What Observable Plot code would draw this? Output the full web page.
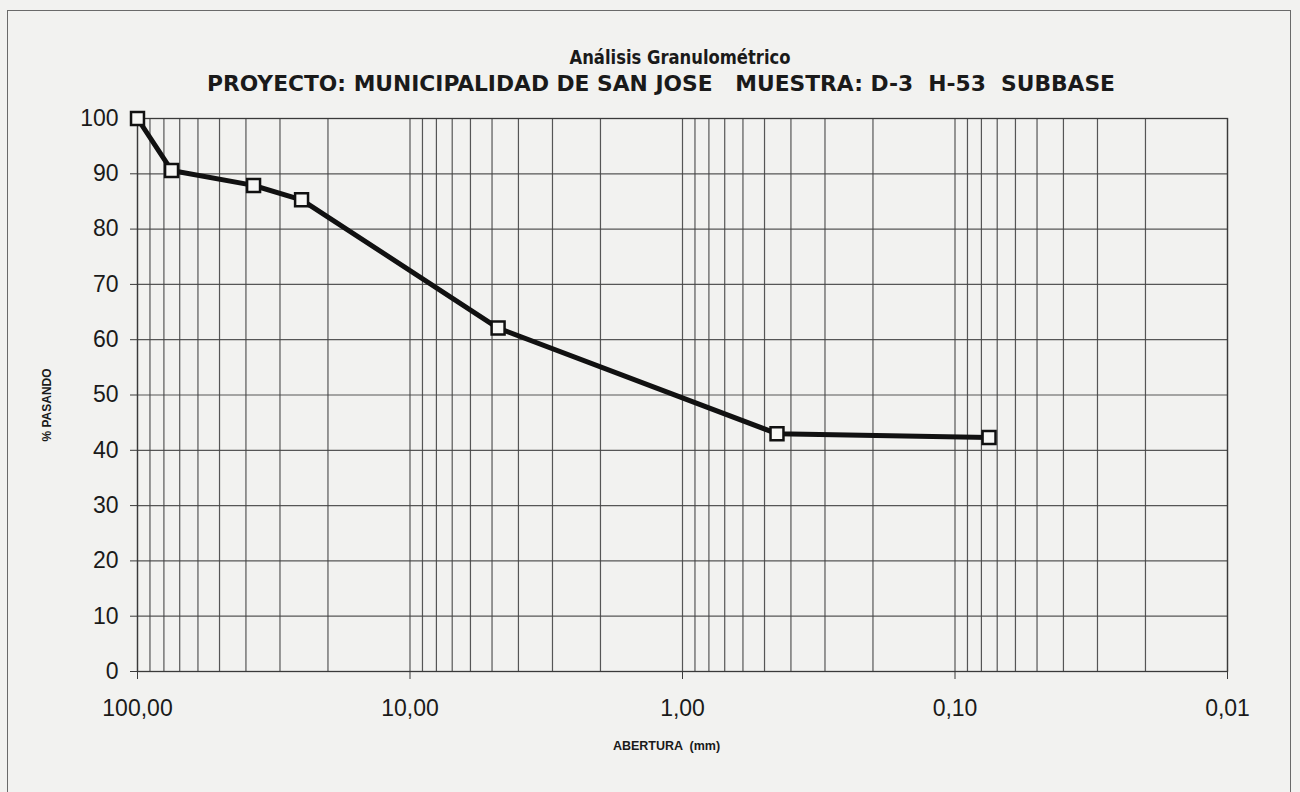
<!DOCTYPE html>
<html>
<head>
<meta charset="utf-8">
<script src="https://cdn.jsdelivr.net/npm/d3@7"></script>
<script src="https://cdn.jsdelivr.net/npm/@observablehq/plot@0.6"></script>
<style>
  body { margin: 0; background: #f2f2f0; }
  #wrap { position: relative; width: 1300px; height: 792px; overflow: hidden; background: #f2f2f0; }
  #frame { position: absolute; left: 7px; top: 10px; width: 1284px; height: 820px; border: 1.5px solid #6a6a6a; box-sizing: border-box; }
  #titles { position: absolute; left: 0; top: 0; }
  #chart { position: absolute; left: 0; top: 100px; }
</style>
</head>
<body>
<div id="wrap">
  <div id="frame"></div>
  <svg id="titles" width="1300" height="100"></svg>
  <div id="chart"></div>
</div>
<script>
// ---- data ----
const aberturas = [100, 75, 37.5, 25, 4.75, 0.45, 0.075];   // mm
const pasando   = [100, 90.6, 87.9, 85.3, 62.1, 43.0, 42.3]; // %
const xTicks = [100, 10, 1, 0.1, 0.01];
const xTickLabels = ["100,00", "10,00", "1,00", "0,10", "0,01"];
const yTicks = [0, 10, 20, 30, 40, 50, 60, 70, 80, 90, 100];
const title1 = "Análisis Granulométrico";
const title2 = "PROYECTO: MUNICIPALIDAD DE SAN JOSE   MUESTRA: D-3  H-53  SUBBASE";
const yLabel = "% PASANDO";
const xLabel = "ABERTURA  (mm)";

const data = aberturas.map((a, i) => ({abertura: a, pasando: pasando[i]}));

// ---- titles ----
const ts = d3.select("#titles");
ts.append("text").attr("x", 680).attr("y", 64).attr("text-anchor", "middle")
  .attr("font-family", "'Liberation Sans Narrow', 'DejaVu Sans Condensed', 'Liberation Sans', sans-serif")
  .attr("font-weight", "bold").attr("font-size", 20).attr("fill", "#1a1a1a")
  .attr("textLength", 221).attr("lengthAdjust", "spacingAndGlyphs")
  .text(title1);
ts.append("text").attr("x", 661).attr("y", 91).attr("text-anchor", "middle")
  .attr("font-family", "'Liberation Sans Narrow', 'DejaVu Sans Condensed', 'Liberation Sans', sans-serif")
  .attr("font-weight", "bold").attr("font-size", 22).attr("fill", "#1a1a1a")
  .attr("textLength", 908).attr("lengthAdjust", "spacingAndGlyphs")
  .style("white-space", "pre")
  .text(title2);

// ---- chart ----
const labelFor = new Map(xTicks.map((t, i) => [t, xTickLabels[i]]));
const gridColor = "#454545";

const chart = Plot.plot({
  width: 1300,
  height: 692,
  marginTop: 18,
  marginBottom: 121,
  marginLeft: 137,
  marginRight: 73,
  style: {background: "transparent", fontFamily: "'Liberation Sans', Arial, sans-serif", fontSize: "23px", color: "#1a1a1a"},
  x: {type: "log", domain: [100, 0.01]},
  y: {domain: [0, 100]},
  marks: [
    Plot.gridX({ticks: 40, stroke: gridColor, strokeOpacity: 0.9, strokeWidth: 1.2}),
    Plot.gridY(yTicks, {stroke: gridColor, strokeOpacity: 0.9, strokeWidth: 1.2}),
    Plot.frame({stroke: "#3a3a3a", strokeWidth: 1.3}),
    Plot.axisX(xTicks, {tickFormat: d => labelFor.get(d), tickSize: 8, tickPadding: 20, label: null, stroke: "#3a3a3a"}),
    Plot.axisY(yTicks, {tickSize: 7, tickPadding: 12, label: null, stroke: "#3a3a3a"}),
    Plot.text([yLabel], {text: d => d, frameAnchor: "left", textAnchor: "middle", dx: -90, dy: 10, rotate: -90, fontSize: 12, fontWeight: "bold", fill: "#1a1a1a"}),
    Plot.text([xLabel], {text: d => d, frameAnchor: "bottom", dx: -16, dy: 78, fontSize: 12.5, fontWeight: "bold", fill: "#1a1a1a", style: "white-space:pre"}),
    Plot.line(data, {x: "abertura", y: "pasando", stroke: "#111", strokeWidth: 5, strokeLinejoin: "round"}),
    Plot.dot(data, {x: "abertura", y: "pasando", symbol: "square", r: 7.3, fill: "#f7f7f5", stroke: "#111", strokeWidth: 2.5})
  ]
});
document.getElementById("chart").append(chart);
</script>
</body>
</html>
